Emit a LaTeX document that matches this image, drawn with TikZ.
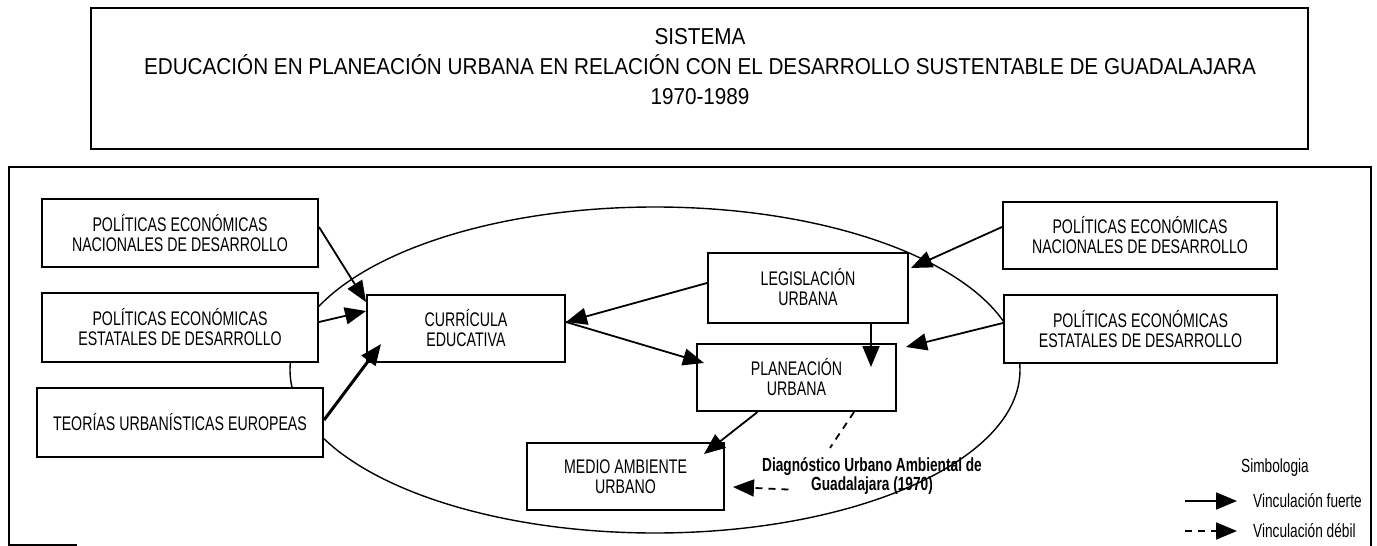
\documentclass[tikz,border=0pt]{standalone}
\usepackage{fontspec}
\setmainfont{Liberation Sans}
\newfontfamily\narrowfont[FakeStretch=0.72]{Liberation Sans}
\newfontfamily\titlefont[FakeStretch=0.9]{Liberation Sans}
\usepackage{tikz}
\usetikzlibrary{positioning,arrows.meta}
\tikzstyle{caja} = [draw, line width=2pt, fill=white, align=center, inner sep=0pt,
  font=\narrowfont\fontsize{19.7pt}{20pt}\selectfont]
\tikzstyle{flecha} = [line width=1.8pt, -{Triangle[length=21pt,width=17pt]}]
\tikzstyle{flechadebil} = [flecha, dash pattern=on 7pt off 6pt]
\tikzstyle{leyenda} = [inner sep=0pt, font=\narrowfont\fontsize{19pt}{19pt}\selectfont]

\begin{document}
\begin{tikzpicture}[x=1pt,y=-1pt]
\useasboundingbox (0,0) rectangle (1377,546);

    % Title box
    \draw[line width=2pt] (91,8) rectangle (1308,149);
    \node[align=center, inner sep=0pt, font=\titlefont\fontsize{23pt}{30pt}\selectfont] (titulo) at (700,67)
        {SISTEMA\\EDUCACIÓN EN PLANEACIÓN URBANA EN RELACIÓN CON EL DESARROLLO SUSTENTABLE DE GUADALAJARA\\1970-1989};

    % Frame of the system
    \draw[line width=1.5pt] (77,545) -- (9,545) -- (9,167) -- (1371,167) -- (1371,546);

    % Ellipse
    \draw[line width=1.4pt] (655,370) ellipse [x radius=365, y radius=163];

    % Boxes on the left
    \node[caja, minimum width=276pt, minimum height=68pt] (polnac) at (180,233) {POLÍTICAS ECONÓMICAS\\NACIONALES DE DESARROLLO};
    \node[caja, minimum width=276pt, minimum height=69pt] (polest) at (180,327.5) {POLÍTICAS ECONÓMICAS\\ESTATALES DE DESARROLLO};
    \node[caja, minimum width=286pt, minimum height=69pt] (teorias) at (180,422.5) {TEORÍAS URBANÍSTICAS EUROPEAS};

    % Boxes in the middle
    \node[caja, minimum width=198pt, minimum height=67pt] (curricula) at (466,328.5) {CURRÍCULA\\EDUCATIVA};
    \node[caja, minimum width=200pt, minimum height=70pt] (legis) at (808,287.5) {LEGISLACIÓN\\URBANA};
    \node[caja, minimum width=199pt, minimum height=67pt] (planea) at (796.5,377.5) {PLANEACIÓN\\URBANA};
    \node[caja, minimum width=197pt, minimum height=67pt] (medio) at (625.5,476.5) {MEDIO AMBIENTE\\URBANO};

    % Boxes on the right
    \node[caja, minimum width=274pt, minimum height=67pt] (polnacr) at (1140,235.5) {POLÍTICAS ECONÓMICAS\\NACIONALES DE DESARROLLO};
    \node[caja, minimum width=273pt, minimum height=68pt] (polestr) at (1140.5,329) {POLÍTICAS ECONÓMICAS\\ESTATALES DE DESARROLLO};

    \node[align=center, inner sep=0pt, font=\narrowfont\bfseries\fontsize{19pt}{16pt}\selectfont] (diag) at (872,476)
        {Diagnóstico Urbano Ambiental de\\Guadalajara (1970)};

    % Strong links
    \draw[flecha] ([yshift=6pt]polnac.east) -- ([yshift=-8pt]curricula.north west);
    \draw[flecha] ([yshift=5.5pt]polest.east) -- ([yshift=-17pt]curricula.north west);
    \draw[flecha, line width=3pt] ([yshift=2.5pt]teorias.east) -- ([xshift=15pt,yshift=19pt]curricula.south west);
    \draw[flecha] ([yshift=4.5pt]legis.west) -- ([yshift=6.5pt]curricula.east);
    \draw[flecha] ([yshift=6.5pt]curricula.east) -- ([xshift=8pt,yshift=14.5pt]planea.west);
    \draw[flecha] ([xshift=-38pt]legis.south east) -- ([xshift=-26pt,yshift=-24pt]planea.north east);
    \draw[flecha] ([yshift=8.5pt]polnacr.west) -- ([xshift=2pt,yshift=19.5pt]legis.east);
    \draw[flecha] ([yshift=6pt]polestr.west) -- ([xshift=9pt,yshift=-4pt]planea.north east);
    \draw[flecha] ([xshift=-39pt]planea.south) -- ([xshift=-21pt,yshift=-12pt]medio.north east);

    % Weak links
    \draw[line width=1.8pt, dash pattern=on 7pt off 6pt] ([xshift=-43pt]planea.south east) -- ([xshift=-42pt,yshift=9.5pt]diag.north);
    \draw[flechadebil] ([xshift=26.5pt,yshift=5pt]diag.south west) -- ([xshift=8pt,yshift=-10.5pt]medio.east);

    % Legend
    \node[leyenda] (simb) at (1275,468) {Simbologia};
    \node[leyenda, anchor=west] (fuerte) at (1253,501) {Vinculación fuerte};
    \node[leyenda, anchor=west] (debil) at (1253,531) {Vinculación débil};
    \draw[flecha] ([xshift=-68pt]fuerte.west) -- ([xshift=-16pt]fuerte.west);
    \draw[flechadebil] ([xshift=-68pt]debil.west) -- ([xshift=-16pt]debil.west);

\end{tikzpicture}
\end{document}
